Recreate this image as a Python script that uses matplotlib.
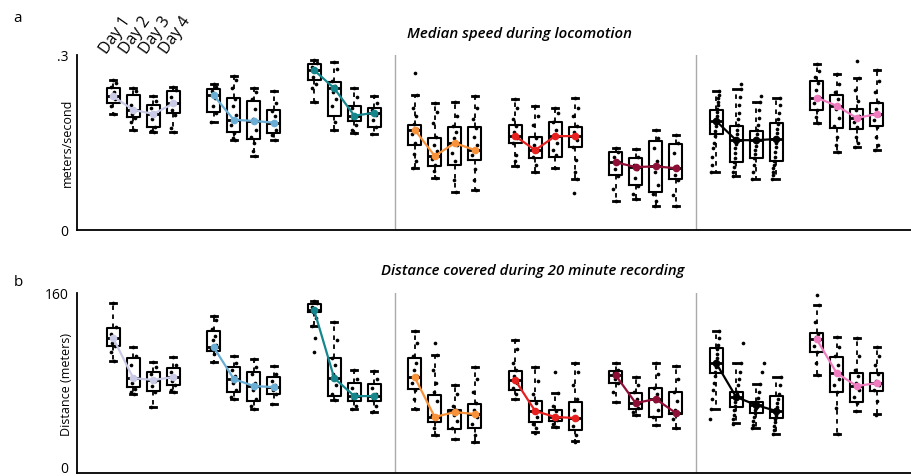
import numpy as np
import matplotlib.pyplot as plt
from matplotlib.transforms import ScaledTranslation

plt.rcParams["font.family"] = ["Open Sans", "DejaVu Sans"]

days = ["Day 1", "Day 2", "Day 3", "Day 4"]
group_colors = ["#c9cae6", "#6aaed6", "#14868c", "#f7923a",
                "#e5201f", "#8e0e36", "#000000", "#f07cc0"]

# --- a: median speed (m/s), 8 groups x 4 days ---
speed_lo = [[.199, .172, .168, .168], [.186, .154, .127, .154], [.220, .172, .166, .165],
            [.106, .090, .066, .069], [.109, .099, .106, .087], [.049, .054, .042, .042],
            [.099, .092, .088, .088], [.184, .134, .142, .137]]
speed_q1 = [[.217, .194, .177, .201], [.203, .168, .156, .166], [.257, .196, .187, .177],
            [.146, .109, .111, .120], [.149, .123, .125, .142], [.094, .078, .066, .088],
            [.165, .116, .123, .118], [.205, .175, .173, .179]]
speed_med = [[.229, .206, .199, .217], [.231, .189, .187, .184], [.274, .243, .196, .201],
             [.172, .127, .149, .137], [.161, .137, .161, .161], [.116, .108, .109, .106],
             [.187, .154, .154, .156], [.227, .213, .192, .199]]
speed_q3 = [[.244, .231, .215, .238], [.241, .227, .222, .205], [.284, .253, .213, .210],
            [.180, .158, .177, .177], [.180, .160, .186, .177], [.134, .123, .153, .147],
            [.205, .179, .170, .184], [.255, .231, .208, .218]]
speed_hi = [[.257, .244, .229, .246], [.250, .264, .243, .238], [.291, .288, .243, .229],
            [.231, .218, .220, .229], [.224, .213, .210, .227], [.140, .139, .172, .163],
            [.239, .241, .220, .227], [.284, .267, .260, .274]]
speed_dots = [
    [[.257, .252, .245, .236, .229, .224, .213, .199],
     [.244, .238, .214, .206, .199, .192, .185, .172],
     [.229, .221, .210, .199, .190, .177, .170, .168],
     [.246, .240, .228, .217, .205, .198, .175, .168]],
    [[.250, .246, .238, .226, .213, .200, .186],
     [.264, .258, .244, .224, .212, .198, .180, .166, .158, .154],
     [.243, .236, .224, .208, .190, .172, .160, .150, .135, .127],
     [.238, .218, .204, .196, .184, .172, .163, .154]],
    [[.291, .287, .280, .272, .262, .250, .244, .220],
     [.288, .276, .255, .247, .236, .225, .212, .186, .172],
     [.243, .228, .210, .196, .190, .180, .172, .166],
     [.229, .218, .206, .198, .188, .176, .165]],
    [[.270, .231, .210, .196, .182, .174, .165, .150, .130, .118, .106],
     [.218, .202, .184, .160, .146, .135, .121, .112, .102, .090],
     [.220, .196, .178, .168, .158, .146, .132, .118, .085, .066],
     [.229, .210, .190, .175, .160, .145, .128, .104, .085, .069]],
    [[.224, .210, .190, .178, .168, .158, .150, .128, .118, .109],
     [.213, .196, .180, .158, .145, .135, .126, .112, .099],
     [.210, .200, .185, .172, .163, .150, .138, .128, .106],
     [.227, .210, .196, .178, .168, .155, .143, .120, .100, .087, .064]],
    [[.140, .134, .125, .116, .104, .092, .070, .049],
     [.139, .125, .112, .104, .090, .075, .062, .054],
     [.172, .158, .140, .118, .100, .078, .062, .050, .042],
     [.163, .150, .132, .110, .095, .085, .060, .042]],
    [[.239, .232, .226, .220, .214, .208, .202, .196, .190, .184, .178, .170, .162, .150, .140, .125, .112, .099],
     [.251, .241, .228, .214, .200, .190, .180, .172, .164, .156, .148, .140, .132, .124, .116, .108, .100, .092],
     [.229, .220, .205, .192, .180, .172, .165, .158, .151, .144, .137, .130, .123, .112, .100, .088],
     [.227, .215, .200, .190, .182, .174, .166, .158, .150, .142, .134, .126, .118, .112, .106, .100, .094, .088]],
    [[.284, .272, .262, .252, .240, .228, .218, .206, .194, .184],
     [.267, .250, .236, .224, .208, .192, .178, .160, .145, .134],
     [.290, .260, .240, .222, .205, .195, .186, .176, .160, .150, .142],
     [.274, .255, .236, .220, .208, .198, .188, .176, .160, .146, .137]],
]

# --- b: distance covered (m), 8 groups x 4 days ---
dist_lo = [[99.6, 70.2, 58.7, 72.0], [98.7, 65.8, 56.9, 61.3], [130.7, 64.9, 56.9, 54.2],
           [56.9, 33.8, 30.2, 27.6], [65.8, 36.4, 40.9, 28.4], [63.1, 51.6, 42.7, 40.0],
           [56.9, 44.4, 40.0, 34.7], [87.1, 34.7, 55.1, 52.4]]
dist_q1 = [[112.9, 76.4, 72.9, 78.2], [108.4, 72.0, 64.0, 70.2], [143.1, 68.4, 64.0, 64.0],
           [74.7, 45.3, 39.1, 40.0], [73.8, 45.3, 46.2, 38.2], [80.0, 56.9, 49.8, 52.4],
           [88.9, 58.7, 53.3, 48.9], [107.6, 72.0, 63.1, 72.9]]
dist_med = [[120.0, 84.4, 82.7, 85.3], [112.0, 83.6, 77.3, 76.4], [144.9, 84.4, 68.4, 68.4],
            [85.3, 49.8, 54.2, 52.4], [82.7, 55.1, 49.8, 48.9], [87.1, 62.2, 65.8, 53.3],
            [97.8, 67.6, 60.4, 55.1], [119.1, 88.9, 77.3, 80.0]]
dist_q3 = [[128.9, 102.2, 89.8, 93.3], [126.2, 94.2, 89.8, 85.3], [150.2, 102.2, 80.0, 79.1],
           [102.2, 69.3, 56.0, 61.3], [90.7, 64.0, 56.0, 63.1], [90.7, 71.1, 75.6, 72.0],
           [111.1, 72.0, 63.1, 68.4], [124.4, 103.1, 88.9, 88.9]]
dist_hi = [[151.1, 112.0, 98.7, 103.1], [139.6, 104.0, 101.3, 95.1], [152.9, 134.2, 91.6, 90.7],
           [126.2, 104.9, 78.2, 94.2], [118.2, 94.2, 71.1, 97.8], [97.8, 85.3, 97.8, 95.1],
           [126.2, 97.8, 79.1, 85.3], [149.3, 120.9, 120.0, 112.0]]
dist_dots = [
    [[151, 130, 124, 120, 116, 113, 108, 100],
     [112, 104, 96, 85, 80, 75, 72, 70],
     [99, 94, 88, 82, 77, 72, 59],
     [103, 96, 90, 85, 82, 78, 74, 72]],
    [[140, 136, 128, 122, 118, 114, 110, 106, 99],
     [104, 98, 92, 86, 80, 74, 68, 66],
     [101, 94, 88, 80, 74, 66, 60, 57],
     [95, 88, 82, 78, 74, 70, 61]],
    [[153, 151, 148, 145, 143, 138, 131, 120, 108],
     [134, 118, 102, 96, 88, 78, 70, 65],
     [92, 84, 76, 70, 66, 60, 57],
     [91, 84, 76, 70, 65, 60, 54]],
    [[126, 116, 104, 98, 92, 86, 80, 74, 66, 57],
     [116, 105, 92, 80, 72, 64, 52, 46, 40, 34],
     [78, 70, 60, 56, 52, 46, 40, 30],
     [94, 84, 72, 62, 56, 50, 44, 34, 28]],
    [[118, 110, 98, 92, 86, 80, 76, 70, 66],
     [94, 82, 70, 62, 56, 50, 44, 40, 36],
     [90, 71, 60, 55, 50, 47, 44, 41],
     [98, 90, 78, 66, 56, 48, 42, 34, 28]],
    [[98, 92, 89, 87, 84, 80, 72, 63],
     [85, 78, 72, 66, 62, 58, 54, 52],
     [98, 88, 76, 70, 64, 56, 50, 43],
     [95, 84, 72, 64, 56, 53, 48, 40]],
    [[126, 120, 114, 110, 106, 102, 98, 94, 90, 86, 80, 74, 66, 57, 48],
     [116, 98, 90, 84, 78, 72, 70, 68, 66, 63, 60, 56, 52, 48, 44],
     [98, 90, 79, 72, 67, 63, 61, 60, 58, 56, 53, 50, 46, 43, 40],
     [85, 78, 70, 66, 62, 59, 56, 54, 52, 50, 48, 45, 42, 38, 35]],
    [[158, 149, 134, 124, 121, 118, 113, 108, 98, 87],
     [121, 112, 104, 96, 90, 84, 78, 72, 58, 35],
     [120, 104, 92, 86, 80, 74, 68, 62, 55],
     [112, 104, 96, 88, 82, 78, 74, 64, 52]],
]

JITTER = [0.0, 0.12, -0.1, 0.06, -0.05, 0.1, -0.12, 0.03, -0.02, 0.08, -0.08]


def draw_panel(ax, lo, q1, med, q3, hi, dots, ymax):
    for g in range(8):
        pos = [g * 5 + d for d in range(4)]
        stats = [dict(whislo=lo[g][d], q1=q1[g][d], med=med[g][d], q3=q3[g][d],
                      whishi=hi[g][d], fliers=[]) for d in range(4)]
        ax.bxp(stats, positions=pos, widths=0.65, showfliers=False,
               boxprops=dict(color="black", lw=1.5),
               whiskerprops=dict(color="black", lw=1.3, linestyle=(0, (2.5, 2.5))),
               capprops=dict(color="black", lw=2),
               medianprops=dict(color="black", lw=2),
               capwidths=0.3)
        for d in range(4):
            vals = np.array(dots[g][d], dtype=float)
            if g == 6:
                # black group: points smeared along a diagonal
                span = hi[g][d] - lo[g][d]
                off = 0.4 * (vals - med[g][d]) / span
            else:
                off = np.array([JITTER[i % len(JITTER)] for i in range(len(vals))])
            ax.scatter(pos[d] + off, vals, s=7, color="black", zorder=3, lw=0)
        ax.plot(pos, med[g], color=group_colors[g], lw=1.6, marker="o", ms=4.5, zorder=4)

    for xs in (14, 29):
        ax.axvline(xs, color="#aaaaaa", lw=1, zorder=0)
    ax.set_xlim(-1.8, 39.75)
    ax.set_ylim(0, ymax)
    ax.set_xticks([])
    for s in ("top", "right"):
        ax.spines[s].set_visible(False)
    ax.spines["left"].set_linewidth(1.3)
    ax.spines["bottom"].set_linewidth(1.3)
    ax.tick_params(axis="y", length=0, labelsize=10, pad=6)


fig = plt.figure(figsize=(9.12, 4.76), dpi=100)
ax_a = fig.add_axes([0.0844, 0.5168, 0.9156, 0.3676])
ax_b = fig.add_axes([0.0844, 0.0063, 0.9156, 0.378])

draw_panel(ax_a, speed_lo, speed_q1, speed_med, speed_q3, speed_hi, speed_dots, 0.3)
ax_a.set_yticks([0, 0.3])
ax_a.set_yticklabels(["0", ".3"])

draw_panel(ax_b, dist_lo, dist_q1, dist_med, dist_q3, dist_hi, dist_dots, 160)
ax_b.set_yticks([0, 160])
ax_b.set_yticklabels(["0", "160"])
zero_lbl = ax_b.get_yticklabels()[0]
zero_lbl.set_transform(zero_lbl.get_transform() + ScaledTranslation(0, 4 / 72, fig.dpi_scale_trans))

for d, name in enumerate(days):
    ax_a.text(d - 0.15, 0.297, name, rotation=55, rotation_mode="anchor",
              ha="left", va="bottom", fontsize=11.5, clip_on=False)

fig.text(67 / 912, 1 - 143 / 476, "meters/second", rotation=90, ha="center", va="center", fontsize=9)
fig.text(67 / 912, 1 - 385 / 476, "Distance (meters)", rotation=90, ha="center", va="center", fontsize=9)
fig.text(520 / 912, 1 - 34 / 476, "Median speed during locomotion",
         ha="center", va="center", fontsize=10.8, style="italic", weight="semibold")
fig.text(533 / 912, 1 - 271 / 476, "Distance covered during 20 minute recording",
         ha="center", va="center", fontsize=10.7, style="italic", weight="semibold")
fig.text(18 / 912, 1 - 18 / 476, "a", ha="center", va="center", fontsize=11)
fig.text(18 / 912, 1 - 283 / 476, "b", ha="center", va="center", fontsize=11)

fig.savefig("out.png", dpi=100)
